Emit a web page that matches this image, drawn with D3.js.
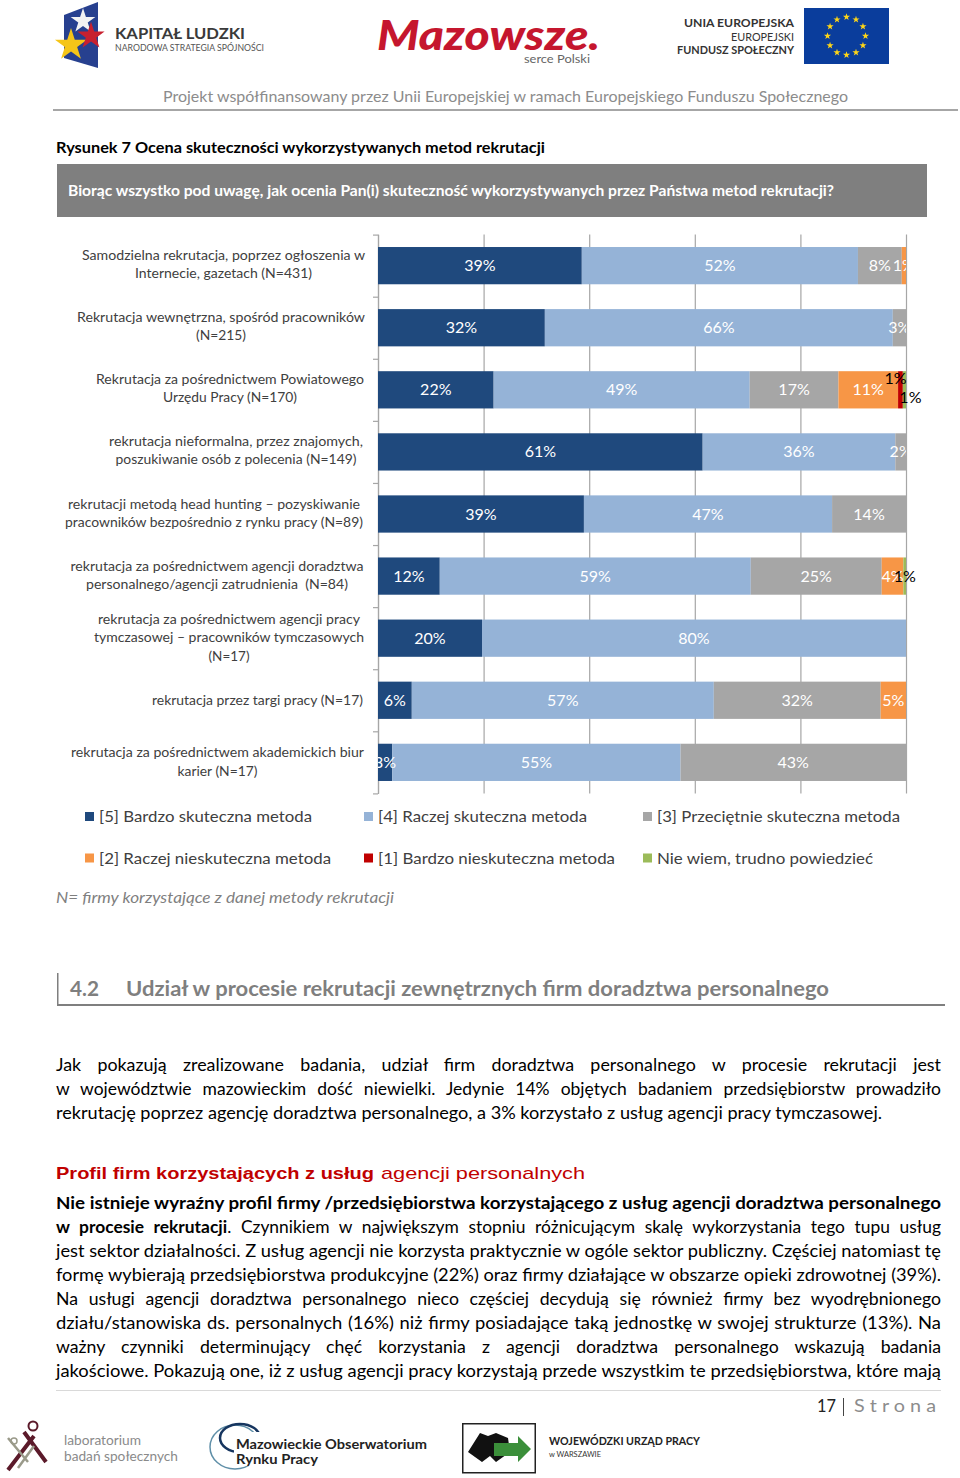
<!DOCTYPE html>
<html lang="pl"><head><meta charset="utf-8">
<script src="https://cdn.jsdelivr.net/npm/d3@7/dist/d3.min.js"></script>
<style>html,body{margin:0;padding:0;background:#fff}svg{display:block}text{font-family:Lato,sans-serif}</style>
</head><body><svg id="c" width="960" height="1478"></svg>
<script>
// ---- chart data ----
const categories = [
  ["Samodzielna rekrutacja, poprzez ogłoszenia w","Internecie, gazetach (N=431)"],
  ["Rekrutacja wewnętrzna, spośród pracowników","(N=215)"],
  ["Rekrutacja za pośrednictwem Powiatowego","Urzędu Pracy (N=170)"],
  ["rekrutacja nieformalna, przez znajomych,","poszukiwanie osób z polecenia (N=149)"],
  ["rekrutacji metodą head hunting – pozyskiwanie","pracowników bezpośrednio z rynku pracy (N=89)"],
  ["rekrutacja za pośrednictwem agencji doradztwa","personalnego/agencji zatrudnienia  (N=84)"],
  ["rekrutacja za pośrednictwem agencji pracy","tymczasowej – pracowników tymczasowych","(N=17)"],
  ["rekrutacja przez targi pracy (N=17)"],
  ["rekrutacja za pośrednictwem akademickich biur","karier (N=17)"]
];
const seriesNames = ["[5] Bardzo skuteczna metoda","[4] Raczej skuteczna metoda","[3] Przeciętnie skuteczna metoda","[2] Raczej nieskuteczna metoda","[1] Bardzo nieskuteczna metoda","Nie wiem, trudno powiedzieć"];
const s5 = [38.6,31.6,21.9,61.49,39.0,11.7,19.7, 6.4, 2.7];
const s4 = [52.3,65.9,48.5,36.49,47.0,58.9,80.3,57.2,54.6];
const s3 = [ 8.3, 2.5,16.8, 2.02,14.0,24.8, 0,  31.6,42.7];
const s2 = [ 0.8, 0,  11.3, 0,   0,   4.1, 0,   4.8, 0  ];
const s1 = [ 0,   0,   0.9, 0,   0,   0,   0,   0,   0  ];
const s0 = [ 0,   0,   0.6, 0,   0,   0.5, 0,   0,   0  ];
const seriesValues = [s5,s4,s3,s2,s1,s0];
const seriesColors = ["#1f497d","#95b3d7","#a6a6a6","#f79646","#c00000","#9bbb59"];
const xTicks = [0,20,40,60,80,100];

// ---- helpers ----
const svg = d3.select("#c");
function T(g, runs, x, y, o={}){
  const t = g.append("text").attr("x",x).attr("y",y)
    .attr("font-size",o.size||16).attr("fill",o.fill||"#000")
    .attr("font-weight",o.weight||400).attr("text-anchor",o.anchor||"start")
    .style("font-family",o.font||null).style("font-style",o.italic?"italic":null)
    .attr("xml:space","preserve");
  if(typeof runs==="string") t.text(runs);
  else runs.forEach(r=>t.append("tspan").attr("font-weight",r[1]?700:400).text(r[0]));
  if(o.w){
    const n=t.node().getComputedTextLength();
    const str=t.text(); const sp=(str.match(/ /g)||[]).length;
    if(o.gap && sp>0 && n<o.w) t.attr("word-spacing",(o.w-n)*o.gap/sp);
    t.attr("textLength",o.w).attr("lengthAdjust","spacingAndGlyphs");
  }
  return t;
}
const star = d3.symbol().type(d3.symbolStar);

// ---- page header ----
const head = svg.append("g");
head.append("polygon").attr("points","64,15 98,2 98,68 64,58").attr("fill","#27408f");
head.append("path").attr("d",star.size(190)()).attr("transform","translate(83,21)").attr("fill","#f2f2f2");
head.append("path").attr("d",star.size(320)()).attr("transform","translate(71,45)").attr("fill","#f5c518");
head.append("path").attr("d",star.size(230)()).attr("transform","translate(91,36)").attr("fill","#c8202f");
T(head,"KAPITAŁ LUDZKI",115,39,{size:16,w:130,weight:700,fill:"#3a3a3a"});
T(head,"NARODOWA STRATEGIA SPÓJNOŚCI",115,51,{size:9,w:149,fill:"#555"});
T(head,"Mazowsze.",377,50,{size:41,w:223,weight:900,italic:true,fill:"#c5162e"});
T(head,"serce Polski",524,63,{size:12,w:66,fill:"#666"});
T(head,"UNIA EUROPEJSKA",684,27,{size:12,w:110,weight:700,fill:"#333"});
T(head,"EUROPEJSKI",731,41,{size:11,w:63,fill:"#333"});
T(head,"FUNDUSZ SPOŁECZNY",677,54,{size:11,w:117,weight:700,fill:"#333"});
head.append("rect").attr("x",804).attr("y",8).attr("width",85).attr("height",56).attr("fill","#0a3d9c");
head.selectAll("path.eu").data(d3.range(12)).join("path").attr("class","eu")
  .attr("d",star.size(16)()).attr("fill","#ffd617")
  .attr("transform",i=>`translate(${846.5+19*Math.sin(i*Math.PI/6)},${36-19*Math.cos(i*Math.PI/6)})`);
T(head,"Projekt współfinansowany przez Unii Europejskiej w ramach Europejskiego Funduszu Społecznego",163,102,{size:15,w:685,fill:"#8c8c8c"});
head.append("rect").attr("x",53).attr("y",109).attr("width",905).attr("height",2).attr("fill","#a6a6a6");
T(head,"Rysunek 7 Ocena skuteczności wykorzystywanych metod rekrutacji",56,153,{size:15.5,w:489,weight:700});
head.append("rect").attr("x",57).attr("y",164).attr("width",870).attr("height",53).attr("fill","#7f7f7f");
T(head,"Biorąc wszystko pod uwagę, jak ocenia Pan(i) skuteczność wykorzystywanych przez Państwa metod rekrutacji?",68,196,{size:15,w:766,weight:700,fill:"#fff"});

// ---- chart ----
const x = d3.scaleLinear().domain([0,100]).range([378,906]);
const y = d3.scaleBand().domain(d3.range(categories.length)).range([234.6,793.4]).paddingInner(0.4).paddingOuter(0.2);
const gridAxis = d3.axisBottom(x).tickValues(xTicks).tickSize(559).tickFormat("");
const grid = svg.append("g").attr("transform","translate(0,234.5)").call(gridAxis);
grid.select(".domain").remove();
grid.selectAll("line").attr("stroke","#a6a6a6").attr("stroke-width",1.2);
const bound = d3.scaleLinear().domain([0,9]).range([234.6,793.4]);
const left = svg.append("g").attr("transform","translate(378,0)").call(d3.axisLeft(bound).tickValues(d3.range(10)).tickSize(5).tickSizeOuter(0).tickFormat(""));
left.selectAll("path,line").attr("stroke","#a6a6a6").attr("stroke-width",1.2);

const stack = d3.stack().keys(d3.range(6)).value((d,k)=>seriesValues[k][d])(d3.range(categories.length));
svg.append("defs").append("clipPath").attr("id","pc").append("rect")
  .attr("x",x(0)).attr("y",230).attr("width",x(100)-x(0)).attr("height",570);
const layers = svg.selectAll("g.layer").data(stack).join("g").attr("class","layer").attr("fill",(d,i)=>seriesColors[i]);
layers.selectAll("rect").data(d=>d.map(v=>({v0:v[0],v1:v[1],r:v.data}))).join("rect")
  .filter(d=>d.v1>d.v0)
  .attr("x",d=>x(d.v0)).attr("y",d=>y(d.r)).attr("height",y.bandwidth()).attr("width",d=>x(d.v1)-x(d.v0));

// data labels: the very small segments get black labels moved off the bar
const labelShift = {"2-4":[-5,-11.5],"2-5":[6,8],"5-5":[0,0]};
const lab = svg.append("g").attr("font-size",16).attr("text-anchor","middle");
const white = lab.append("g").attr("clip-path","url(#pc)").attr("fill","#fff");
const black = lab.append("g").attr("fill","#000");
stack.forEach((layer,k)=>layer.forEach((v,r)=>{
  if(v[1]<=v[0]) return;
  const sh = labelShift[r+"-"+k];
  const g = sh?black:white, d = sh||[0,0];
  g.append("text").attr("x",x((v[0]+v[1])/2)+d[0]).attr("y",y(r)+y.bandwidth()/2+5.5+d[1])
    .text(Math.round(seriesValues[k][r])+"%");
}));

// category labels
const catCenter = [223.5,221,230,236,214,217,229,257.5,217.5];
const catWidth = [[283,177],[288,50],[268,134],[254,241],[292,298],[293,262],[262,270,41],[211],[293,80]];
const catY = [[260,278],[322,340],[384,402],[446,464],[509,527],[571,589],[624,642,661],[705],[757,776]];
const catG = svg.append("g");
categories.forEach((ls,i)=>ls.forEach((s,j)=>{
  T(catG,s,catCenter[i],catY[i][j],{size:14,anchor:"middle",fill:"#404040",w:catWidth[i][j]});
}));

// legend
const legX=[85,364,643], legTW=[213,209,243,232,237,216];
const legend = svg.append("g");
seriesNames.forEach((n,i)=>{
  const c=i%3, rowY=i<3?816.5:858;
  legend.append("rect").attr("x",legX[c]).attr("y",rowY-4.5).attr("width",9).attr("height",9).attr("fill",seriesColors[i]);
  T(legend,n,legX[c]+14,rowY+5.5,{size:15,fill:"#404040",w:legTW[i]});
});
T(svg,"N= firmy korzystające z danej metody rekrutacji",56,903,{size:15,italic:true,fill:"#7f7f7f",w:338});

// ---- section heading ----
svg.append("rect").attr("x",57).attr("y",973).attr("width",1.5).attr("height",32).attr("fill","#7f7f7f");
svg.append("rect").attr("x",57).attr("y",1004).attr("width",888).attr("height",2).attr("fill","#7f7f7f");
T(svg,"4.2",70,996,{size:21,weight:700,fill:"#7f7f7f",w:29});
T(svg,"Udział w procesie rekrutacji zewnętrznych firm doradztwa personalnego",126,996,{size:21,weight:700,fill:"#7f7f7f",w:703});

// ---- body text ----
const body = svg.append("g");
const L=56,W=885,bs=16.3;
[["Jak pokazują zrealizowane badania, udział firm doradztwa personalnego w procesie rekrutacji jest",1071,W,0.6],
 ["w województwie mazowieckim dość niewielki. Jedynie 14% objętych badaniem przedsiębiorstw prowadziło",1095,W,0.5],
 ["rekrutację poprzez agencję doradztwa personalnego, a 3% korzystało z usług agencji pracy tymczasowej.",1119,826,0]
].forEach(l=>T(body,l[0],L,l[1],{size:bs,w:l[2],gap:l[3]}));
T(body,"Profil firm korzystających z usług",56,1179,{size:17,weight:700,fill:"#c00000",font:"'Liberation Sans'",w:318});
T(body,"agencji personalnych",381,1179,{size:17,fill:"#c00000",font:"'Liberation Sans'",w:204});
[[[["Nie istnieje wyraźny profil firmy /przedsiębiorstwa korzystającego z usług agencji doradztwa personalnego",1]],1209,0],
 [[["w procesie rekrutacji",1],[". Czynnikiem w największym stopniu różnicującym skalę wykorzystania tego tupu usług",0]],1233,0.5],
 [[["jest sektor działalności. Z usług agencji nie korzysta praktycznie w ogóle sektor publiczny. Częściej natomiast tę",0]],1257,0],
 [[["formę wybierają przedsiębiorstwa produkcyjne (22%) oraz firmy działające w obszarze opieki zdrowotnej (39%).",0]],1281,0],
 [[["Na usługi agencji doradztwa personalnego nieco częściej decydują się również firmy bez wyodrębnionego",0]],1305,0.5],
 [[["działu/stanowiska ds. personalnych (16%) niż firmy posiadające taką jednostkę w swojej strukturze (13%). Na",0]],1329,0.1],
 [[["ważny czynniki determinujący chęć korzystania z agencji doradztwa personalnego wskazują badania",0]],1353,0.6],
 [[["jakościowe. Pokazują one, iż z usług agencji pracy korzystają przede wszystkim te przedsiębiorstwa, które mają",0]],1377,0]
].forEach(l=>T(body,l[0],L,l[1],{size:bs,w:W,gap:l[2]}));

// ---- footer ----
const foot = svg.append("g");
foot.append("rect").attr("x",56).attr("y",1390).attr("width",885).attr("height",1).attr("fill","#d9d9d9");
T(foot,"17",817,1412,{size:17,w:19,fill:"#222"});
foot.append("rect").attr("x",843).attr("y",1398).attr("width",1).attr("height",18).attr("fill","#444");
T(foot,"S t r o n a",854,1412,{size:17,w:82,fill:"#8c8c8c"});
foot.append("path").attr("d","M8 1470 L34 1436 M24 1432 L46 1462").attr("stroke","#5b1a2a").attr("stroke-width",4).attr("fill","none");
foot.append("path").attr("d","M8 1438 L28 1462 M34 1446 L18 1468").attr("stroke","#9a9a8a").attr("stroke-width",2.5).attr("fill","none");
foot.append("circle").attr("cx",33).attr("cy",1426).attr("r",4.5).attr("fill","none").attr("stroke","#5b1a2a").attr("stroke-width",2);
foot.append("circle").attr("cx",14).attr("cy",1441).attr("r",3).attr("fill","none").attr("stroke","#9a9a8a").attr("stroke-width",1.5);
T(foot,"laboratorium",64,1445,{size:14,w:77,fill:"#8a8a8a"});
T(foot,"badań społecznych",64,1461,{size:14,w:114,fill:"#8a8a8a"});
foot.append("ellipse").attr("cx",235).attr("cy",1447).attr("rx",25).attr("ry",22).attr("fill","none").attr("stroke","#5f8fa8").attr("stroke-width",1.5);
foot.append("ellipse").attr("cx",240).attr("cy",1438).attr("rx",20).attr("ry",14).attr("fill","none").attr("stroke","#16355f").attr("stroke-width",2.5);
foot.append("rect").attr("x",234).attr("y",1432).attr("width",196).attr("height",34).attr("fill","#fff");
T(foot,"Mazowieckie Obserwatorium",236,1449,{size:13.5,w:191,weight:700,fill:"#222"});
T(foot,"Rynku Pracy",236,1464,{size:13.5,w:82,weight:700,fill:"#222"});
foot.append("rect").attr("x",462.75).attr("y",1423.75).attr("width",72.5).attr("height",49).attr("fill","#fff").attr("stroke","#222").attr("stroke-width",1.5);
foot.append("polygon").attr("points","468,1452 480,1433 488,1436 496,1433 508,1438 510,1452 496,1462 490,1456 482,1462").attr("fill","#111");
foot.append("polygon").attr("points","494,1443 518,1443 518,1436 531,1449 518,1462 518,1456 494,1456").attr("fill","#3b8f3a");
T(foot,"WOJEWÓDZKI URZĄD PRACY",549,1445,{size:10.5,w:151,weight:700,fill:"#222"});
T(foot,"w WARSZAWIE",549,1457,{size:8,w:52,fill:"#333"});
</script></body></html>
